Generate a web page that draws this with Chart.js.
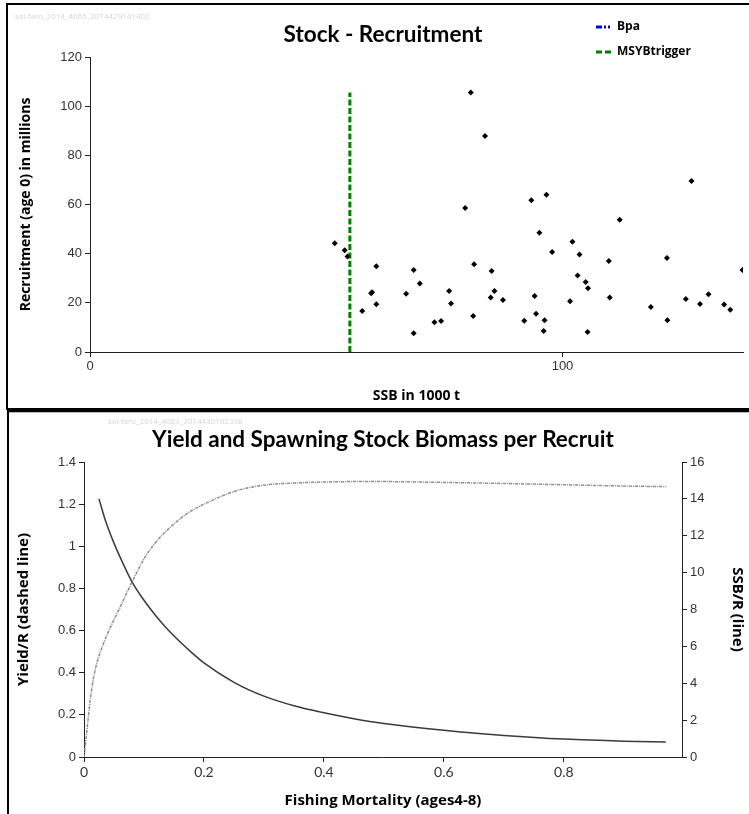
<!DOCTYPE html>
<html>
<head>
<meta charset="utf-8">
<script src="https://cdn.jsdelivr.net/npm/chart.js@4.4.0/dist/chart.umd.min.js"></script>
<style>
  html, body { margin: 0; padding: 0; background: #fff; overflow: hidden; }
  body { width: 749px; height: 814px; position: relative; }
  canvas { position: absolute; left: 0; }
  #srChart { top: 0; }
  #yprChart { top: 412px; }
  .panel { position: absolute; border: 2px solid #000; box-sizing: border-box; pointer-events: none; }
  #panelTop { left: 6px; top: 3px; width: 800px; height: 407px; }
  #panelBottom { left: 7px; top: 410px; width: 800px; height: 500px; box-shadow: inset 0 1px 0 #bbb; }
  .stamp { position: absolute; font: 8px "Open Sans", sans-serif; color: #d4d4d4; white-space: nowrap; }
</style>
</head>
<body>
<canvas id="srChart" width="749" height="408"></canvas>
<canvas id="yprChart" width="749" height="402"></canvas>
<div class="panel" id="panelTop"></div>
<div class="panel" id="panelBottom"></div>
<div class="stamp" style="left:15px; top:10px;">sai-faro_2014_4065_2014429141402</div>
<div class="stamp" style="left:108px; top:415px;">sai-faro_2014_4083_2014430182338</div>
<script>
// stock - recruitment pairs (SSB in 1000 t, recruitment in millions)
const ssb = [51.8, 53.9, 54.5, 57.6, 59.5, 59.7, 60.6, 60.6, 66.9, 68.5, 68.5, 69.8, 72.9, 74.3,
  76.0, 76.4, 79.4, 80.6, 81.1, 81.3, 83.6, 84.8, 85.0, 85.6, 87.4, 91.9, 93.4, 94.1, 94.4, 95.1,
  96.2, 96.0, 96.6, 97.8, 101.6, 102.1, 103.2, 103.6, 104.9, 105.4, 105.3, 109.8, 110.0, 112.1,
  118.7, 122.1, 122.2, 126.1, 127.3, 129.1, 130.9, 134.2, 135.5, 138.1];
const recruitment = [44.2, 41.4, 38.8, 16.7, 23.9, 24.3, 34.9, 19.4, 23.7, 33.4, 7.6, 27.9, 12.1, 12.6,
  24.8, 19.7, 58.6, 105.6, 14.6, 35.7, 87.9, 22.2, 33.0, 24.8, 21.2, 12.7, 61.7, 22.8, 15.6, 48.5,
  12.9, 8.5, 64.0, 40.7, 20.6, 44.8, 31.1, 39.7, 28.5, 25.9, 8.1, 37.0, 22.2, 53.8,
  18.3, 38.2, 12.9, 21.6, 69.6, 19.5, 23.5, 19.3, 17.2, 33.4];
const msyBtrigger = 55;
const ssbMax = 138.2;

// yield and SSB per recruit
const fYield = [0, 0.005, 0.01, 0.015, 0.02, 0.025, 0.04, 0.06, 0.08, 0.10, 0.12, 0.14, 0.16, 0.18, 0.20,
  0.25, 0.30, 0.35, 0.40, 0.45, 0.50, 0.60, 0.70, 0.80, 0.90, 0.97];
const yieldPerRecruit = [0, 0.13, 0.26, 0.36, 0.43, 0.48, 0.59, 0.71, 0.83, 0.94, 1.02, 1.08, 1.13, 1.17, 1.20,
  1.26, 1.29, 1.30, 1.305, 1.307, 1.307, 1.303, 1.298, 1.292, 1.286, 1.283];
const fSsb = [0.025, 0.035, 0.05, 0.065, 0.08, 0.10, 0.12, 0.14, 0.16, 0.18, 0.20, 0.25, 0.30, 0.35,
  0.40, 0.45, 0.50, 0.60, 0.70, 0.80, 0.90, 0.97];
const ssbPerRecruit = [14.0, 12.9, 11.6, 10.5, 9.5, 8.5, 7.65, 6.9, 6.25, 5.65, 5.1, 4.05, 3.3, 2.78,
  2.4, 2.08, 1.82, 1.45, 1.17, 0.97, 0.86, 0.82];
const fMax = 0.997;

const tickFont = { family: '"Liberation Sans", Arial, sans-serif', size: 13 };
const titleFont = { family: '"Open Sans", Lato, sans-serif', size: 14, weight: 'bold' };
const fmt = v => String(+v.toFixed(2));

function axisLine(extra) {
  return Object.assign({
    grid: { drawOnChartArea: false, drawTicks: true, tickLength: 5, color: '#222', lineWidth: 1 },
    border: { display: true, color: '#222', width: 1 }
  }, extra);
}

// titles and legend drawn at fixed spots of the panel
const headerPlugin = {
  id: 'header',
  afterDraw(chart, args, opts) {
    const ctx = chart.ctx;
    ctx.save();
    ctx.fillStyle = '#000';
    ctx.textBaseline = 'middle';
    ctx.textAlign = 'center';
    ctx.font = 'bold 22.5px Lato, "Open Sans", sans-serif';
    ctx.fillText(opts.text, opts.x, opts.y);
    (opts.legend || []).forEach((idx, i) => {
      const ds = chart.data.datasets[idx];
      const y = opts.legendY + i * 25;
      ctx.beginPath();
      ctx.strokeStyle = ds.borderColor;
      ctx.lineWidth = 3;
      ctx.setLineDash(ds.legendDash);
      ctx.moveTo(opts.legendX, y);
      ctx.lineTo(opts.legendX + 16, y);
      ctx.stroke();
      ctx.setLineDash([]);
      ctx.textAlign = 'left';
      ctx.font = 'bold 12px "Open Sans", Lato, sans-serif';
      ctx.fillText(ds.label, opts.legendX + 21, y);
    });
    ctx.restore();
  }
};

new Chart(document.getElementById('srChart'), {
  type: 'scatter',
  data: {
    datasets: [
      {
        label: 'Recruitment',
        data: ssb.map((x, i) => ({ x: x, y: recruitment[i] })),
        pointStyle: 'rectRot',
        pointRadius: 3,
        backgroundColor: '#000',
        borderColor: '#000',
        borderWidth: 0
      },
      {
        label: 'Bpa',
        type: 'line',
        data: [],
        borderColor: '#0000ff',
        legendDash: [6, 2, 2, 2, 2, 2],
        borderWidth: 3,
        pointRadius: 0
      },
      {
        label: 'MSYBtrigger',
        type: 'line',
        data: [{ x: msyBtrigger, y: 0 }, { x: msyBtrigger, y: Math.max(...recruitment) }],
        borderColor: '#008000',
        borderDash: [6, 2.5],
        legendDash: [6, 3],
        borderWidth: 3,
        pointRadius: 0
      }
    ]
  },
  options: {
    responsive: false,
    animation: false,
    layout: { padding: { top: 57, right: 6, left: 0, bottom: 0 } },
    plugins: {
      legend: { display: false },
      tooltip: { enabled: false },
      header: { text: 'Stock - Recruitment', x: 383, y: 35, legend: [1, 2], legendX: 596, legendY: 27 }
    },
    scales: {
      x: axisLine({
        type: 'linear', min: 0, max: ssbMax,
        afterFit: s => { s.height = 56; },
        ticks: { stepSize: 100, includeBounds: false, font: tickFont, color: '#333', padding: 2, callback: fmt },
        title: { display: true, text: 'SSB in 1000 t', font: titleFont, color: '#000', padding: { bottom: 4 } }
      }),
      y: axisLine({
        min: 0, max: 120,
        afterFit: s => { s.width = 90; },
        ticks: { stepSize: 20, font: tickFont, color: '#333', padding: 3, callback: fmt },
        title: { display: true, text: 'Recruitment (age 0) in millions', font: titleFont, color: '#000', padding: { top: 18 } }
      })
    }
  },
  plugins: [headerPlugin]
});

const bottomTitleFont = Object.assign({}, titleFont, { size: 15 });

new Chart(document.getElementById('yprChart'), {
  type: 'line',
  data: {
    datasets: [
      {
        label: 'Yield/R',
        data: fYield.map((x, i) => ({ x: x, y: yieldPerRecruit[i] })),
        yAxisID: 'y',
        borderColor: '#8a8a8a',
        borderWidth: 1.5,
        borderDash: [3, 1, 1, 1],
        pointRadius: 0,
        cubicInterpolationMode: 'monotone'
      },
      {
        label: 'SSB/R',
        data: fSsb.map((x, i) => ({ x: x, y: ssbPerRecruit[i] })),
        yAxisID: 'y1',
        borderColor: '#3a3a3a',
        borderWidth: 1.5,
        pointRadius: 0,
        cubicInterpolationMode: 'monotone'
      }
    ]
  },
  options: {
    responsive: false,
    animation: false,
    layout: { padding: { top: 50, right: 0, left: 0, bottom: 0 } },
    plugins: {
      legend: { display: false },
      tooltip: { enabled: false },
      header: { text: 'Yield and Spawning Stock Biomass per Recruit', x: 383, y: 28 }
    },
    scales: {
      x: axisLine({
        type: 'linear', min: 0, max: fMax,
        afterFit: s => { s.height = 57; },
        ticks: { stepSize: 0.2, includeBounds: false, font: { family: 'Lato, sans-serif', size: 14 }, color: '#333', padding: 2, callback: fmt },
        title: { display: true, text: 'Fishing Mortality (ages4-8)', font: bottomTitleFont, color: '#000', padding: { bottom: 4 } }
      }),
      y: axisLine({
        position: 'left', min: 0, max: 1.4,
        afterFit: s => { s.width = 84; },
        ticks: { stepSize: 0.2, font: tickFont, color: '#333', padding: 3, callback: fmt },
        title: { display: true, text: 'Yield/R (dashed line)', font: bottomTitleFont, color: '#000', padding: { top: 15 } }
      }),
      y1: axisLine({
        position: 'right', min: 0, max: 16,
        afterFit: s => { s.width = 67; },
        ticks: { stepSize: 2, font: tickFont, color: '#333', padding: 3, callback: fmt },
        title: { display: true, text: 'SSB/R (line)', font: bottomTitleFont, color: '#000', padding: { top: 3 } }
      })
    }
  },
  plugins: [headerPlugin]
});
</script>
</body>
</html>
